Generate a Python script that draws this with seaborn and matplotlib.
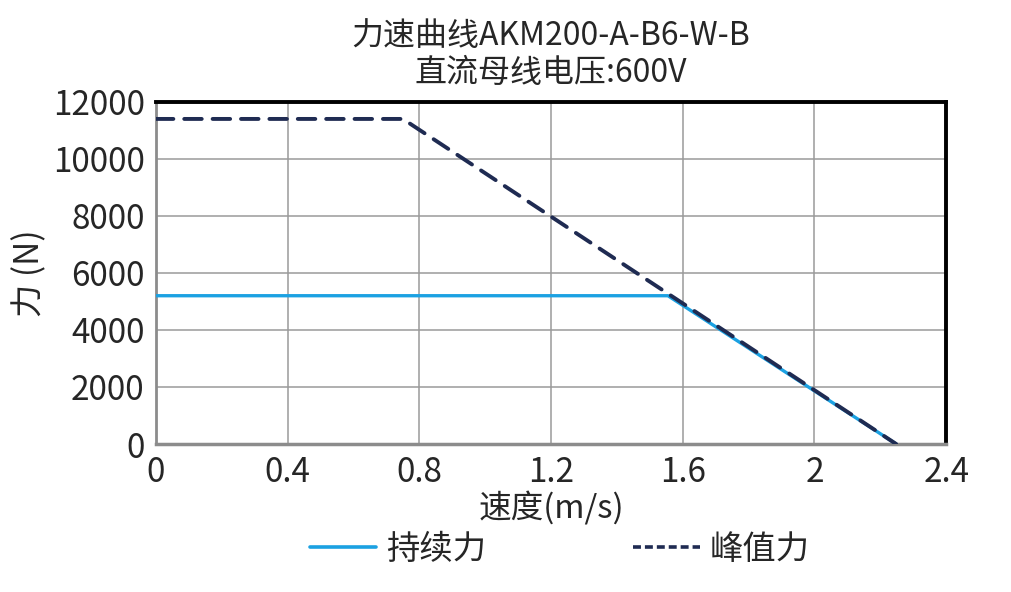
import pandas as pd
import matplotlib
matplotlib.use("Agg")
import matplotlib.pyplot as plt
from matplotlib.lines import Line2D
import seaborn as sns

# data
speed_cont = [0, 1.555, 2.248]
force_cont = [5200, 5200, 0]
speed_peak = [0, 0.75, 2.248]
force_peak = [11400, 11400, 0]
x_ticks = [0, 0.4, 0.8, 1.2, 1.6, 2, 2.4]
x_tick_labels = ['0', '0.4', '0.8', '1.2', '1.6', '2', '2.4']
y_ticks = [0, 2000, 4000, 6000, 8000, 10000, 12000]

sns.set_theme(style='white')
plt.rcParams['font.family'] = ['Noto Sans CJK SC', 'DejaVu Sans']

cont_color = '#1BA1E2'
peak_color = '#1F2B52'

df_cont = pd.DataFrame({'speed': speed_cont, 'force': force_cont})
df_peak = pd.DataFrame({'speed': speed_peak, 'force': force_peak})

fig = plt.figure(figsize=(10.12, 5.92), dpi=100)
ax = fig.add_axes([0.154, 0.25, 0.781, 0.578])

sns.lineplot(data=df_cont, x='speed', y='force', ax=ax, color=cont_color,
             linewidth=2.4, sort=False, zorder=3)
sns.lineplot(data=df_peak, x='speed', y='force', ax=ax, color=peak_color,
             linewidth=2.8, sort=False, zorder=4)
ax.lines[1].set_dashes([4.5, 2.8])
ax.lines[1].set_dash_capstyle('round')

ax.set_xlim(0, 2.4)
ax.set_ylim(0, 12000)
ax.set_xticks(x_ticks)
ax.set_xticklabels(x_tick_labels)
ax.set_yticks(y_ticks)
ax.tick_params(labelsize=24, length=0)
ax.tick_params(axis='y', pad=8)
ax.tick_params(axis='x', pad=8)
ax.grid(True, color='#9a9a9a', linewidth=1.1)

for side in ['left', 'bottom']:
    ax.spines[side].set_color('#8c8c8c')
ax.spines['left'].set_linewidth(2.0)
ax.spines['bottom'].set_linewidth(2.5)
for side in ['top', 'right']:
    ax.spines[side].set_color('black')
    ax.spines[side].set_linewidth(2.8)

ax.set_xlabel('速度(m/s)', fontsize=23.5, labelpad=1)
ax.set_ylabel('力 (N)', fontsize=24, labelpad=4)
ax.set_title('力速曲线AKM200-A-B6-W-B\n直流母线电压:600V', fontsize=23,
             linespacing=1.2, pad=14)

handles = [Line2D([], [], color=cont_color, linewidth=2.6),
           Line2D([], [], color=peak_color, linewidth=2.6, dashes=[2.2, 1.1])]
fig.legend(handles, ['持续力', '峰值力'], loc='center',
           bbox_to_anchor=(0.553, 0.072), ncol=2, frameon=False, fontsize=24,
           handlelength=2.0, handletextpad=0.3, columnspacing=4.4)

fig.savefig('out.png', dpi=100)
